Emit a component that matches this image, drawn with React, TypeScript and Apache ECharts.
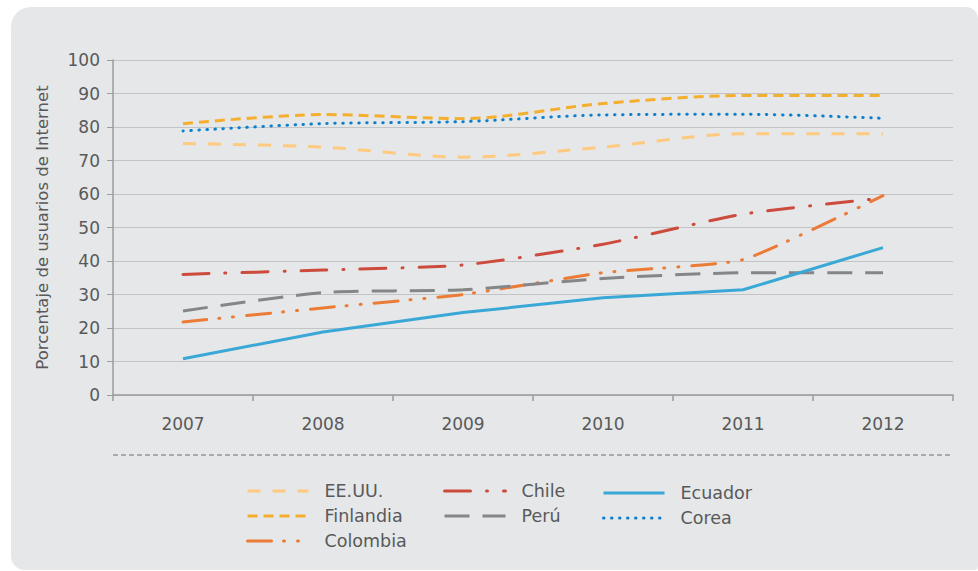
import React, { useEffect, useRef } from "react";
import * as echarts from "echarts";

const years = ["2007", "2008", "2009", "2010", "2011", "2012"];
const yTicks = [0, 10, 20, 30, 40, 50, 60, 70, 80, 90, 100];
const eeuu = [75.1, 74, 71, 74, 78, 78];
const finlandia = [81, 83.7, 82.5, 87, 89.4, 89.4];
const colombia = [21.8, 26, 30, 36.5, 40.4, 59.5];
const chile = [36, 37.3, 38.8, 45, 54, 58.8];
const peru = [25.1, 30.6, 31.4, 34.8, 36.5, 36.5];
const ecuador = [10.8, 18.8, 24.6, 29, 31.4, 44];
const corea = [78.8, 81, 81.6, 83.6, 83.8, 82.6];

const FONT = "'DejaVu Sans', 'Noto Sans', sans-serif";
const TXT = "#58595b";

export default function App() {
  const ref = useRef<HTMLDivElement>(null);
  useEffect(() => {
    if (!ref.current) return;
    const chart = echarts.init(ref.current, null, { renderer: "svg" });
    const mk = (name: string, data: number[], color: string, type: any, smooth: number | boolean, cap = "butt") => ({
      name,
      type: "line",
      data,
      symbol: "none",
      smooth,
      lineStyle: { color, width: 3, type, cap },
      itemStyle: { color },
    });
    const legendBase = {
      orient: "vertical",
      padding: 0,
      itemWidth: 61,
      itemHeight: 16,
      itemGap: 7,
      itemStyle: { opacity: 0, borderWidth: 0 },
      lineStyle: { width: 3 },
      textStyle: { color: TXT, fontSize: 17.5, fontFamily: FONT, lineHeight: 16, padding: [0, 0, 0, 11] },
    };
    chart.setOption({
      animation: false,
      graphic: [
        {
          type: "rect",
          z: -10,
          shape: { x: 11, y: 7, width: 967, height: 563, r: [20, 12, 4, 14] },
          style: { fill: "#e6e7e8" },
          silent: true,
        },
        {
          type: "line",
          shape: { x1: 113, y1: 455, x2: 953, y2: 455 },
          style: { stroke: "#6d6e70", lineWidth: 1, lineDash: [5, 3] },
          silent: true,
        },
      ],
      grid: { left: 113, top: 60, width: 840, height: 335 },
      xAxis: {
        type: "category",
        data: years,
        boundaryGap: true,
        axisLine: { lineStyle: { color: "#9a9b9d", width: 1.5 } },
        axisTick: { show: true, length: 6, lineStyle: { color: "#9a9b9d", width: 1.5 } },
        axisLabel: { color: TXT, fontSize: 17, fontFamily: FONT, margin: 20 },
      },
      yAxis: {
        type: "value",
        min: 0,
        max: 100,
        interval: 10,
        name: "Porcentaje de usuarios de Internet",
        nameLocation: "middle",
        nameRotate: 90,
        nameGap: 62,
        nameTextStyle: { color: TXT, fontSize: 16.5, fontFamily: FONT },
        axisLine: { show: true, lineStyle: { color: "#9a9b9d", width: 1.5 } },
        axisTick: { show: true, length: 6, lineStyle: { color: "#9a9b9d", width: 1 } },
        axisLabel: { color: TXT, fontSize: 17, fontFamily: FONT, margin: 13, formatter: (v: number) => (yTicks.includes(v) ? String(v) : "") },
        splitLine: { lineStyle: { color: "#c3c4c6", width: 1.2 } },
      },
      legend: [
        { ...legendBase, left: 246, top: 482, data: ["EE.UU.", "Finlandia", "Colombia"] },
        { ...legendBase, left: 443, top: 482, data: ["Chile", "Perú"] },
        { ...legendBase, left: 602, top: 484, data: ["Ecuador", "Corea"] },
      ],
      series: [
        mk("EE.UU.", eeuu, "#fdca80", [13, 12], 0.3),
        mk("Finlandia", finlandia, "#f5af2f", [10, 6], 0.3),
        mk("Colombia", colombia, "#ec7b36", [24, 12, 1, 13, 1, 13], 0.15, "round"),
        mk("Chile", chile, "#cc4b3d", [26, 16, 1, 16], 0.2, "round"),
        mk("Perú", peru, "#858688", [25, 13], 0.2),
        mk("Ecuador", ecuador, "#3aa8d6", "solid", false),
        mk("Corea", corea, "#0a80d0", [0.5, 7.5], 0.3, "round"),
      ],
    });
    return () => chart.dispose();
  }, []);
  return (
    <div
      ref={ref}
      style={{ position: "fixed", left: 0, top: 0, width: 978, height: 571, background: "#ffffff" }}
    />
  );
}
